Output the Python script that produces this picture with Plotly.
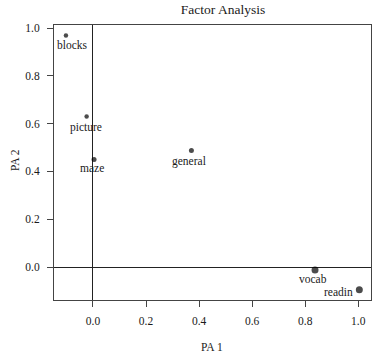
import plotly.graph_objects as go

# ---- data ----
variables = ["general", "picture", "blocks", "maze", "readin", "vocab"]
pa1 = [0.371, -0.024, -0.102, 0.004, 1.004, 0.837]
pa2 = [0.487, 0.630, 0.969, 0.450, -0.095, -0.013]
x_ticks = [0.0, 0.2, 0.4, 0.6, 0.8, 1.0]
y_ticks = [0.0, 0.2, 0.4, 0.6, 0.8, 1.0]

# ---- style ----
marker_px = {"general": 5, "picture": 4.5, "blocks": 4.5, "maze": 5, "readin": 7, "vocab": 7}
label_shift = {  # (xshift, yshift, xanchor)
    "general": (-2, -11, "center"),
    "picture": (-1, -11, "center"),
    "blocks": (7, -10, "center"),
    "maze": (-2, -9, "center"),
    "readin": (-4, -2, "right"),
    "vocab": (-2, -9, "center"),
}
FONT = "Liberation Serif, Times New Roman, serif"
TXT = "#1a1a1a"
AX = "#444444"

fig = go.Figure()
fig.add_trace(go.Scatter(
    x=pa1, y=pa2, mode="markers",
    marker=dict(color="black", size=[marker_px[v] for v in variables], line=dict(width=0)),
    hoverinfo="text", text=variables, showlegend=False,
))

for v, xv, yv in zip(variables, pa1, pa2):
    dx, dy, xa = label_shift[v]
    fig.add_annotation(x=xv, y=yv, text=v, showarrow=False, xshift=dx, yshift=dy,
                       xanchor=xa, yanchor="middle",
                       font=dict(family=FONT, size=11.5, color=TXT))

axis_common = dict(
    showgrid=False, showline=True, linecolor=AX, linewidth=1, mirror=True,
    ticks="outside", ticklen=6, tickcolor=AX, tickwidth=1,
    zeroline=True, zerolinecolor="#222222", zerolinewidth=1,
    tickformat=".1f", tickfont=dict(family=FONT, size=11.5, color=TXT),
)
fig.update_xaxes(range=[-0.147, 1.048], tickvals=x_ticks, ticklabelstandoff=4, **axis_common)
fig.update_yaxes(range=[-0.138, 1.0126], tickvals=y_ticks, ticklabelstandoff=5, **axis_common)

fig.add_annotation(xref="paper", yref="paper", x=0.498, y=-0.171, text="PA 1", showarrow=False,
                   xanchor="center", yanchor="middle", font=dict(family=FONT, size=11.5, color=TXT))
fig.add_annotation(xref="paper", yref="paper", x=-0.123, y=0.509, text="PA 2", showarrow=False,
                   textangle=-90, xanchor="center", yanchor="middle",
                   font=dict(family=FONT, size=11.5, color=TXT))

fig.update_layout(
    width=372, height=355,
    margin=dict(l=54, r=1, t=25, b=55),
    paper_bgcolor="white", plot_bgcolor="white",
    title=dict(text="Factor Analysis", x=223 / 372, xref="container", xanchor="center",
               y=1 - 9 / 355, yref="container", yanchor="middle",
               font=dict(family=FONT, size=13.5, color=TXT)),
)

fig.write_html("out.html")
